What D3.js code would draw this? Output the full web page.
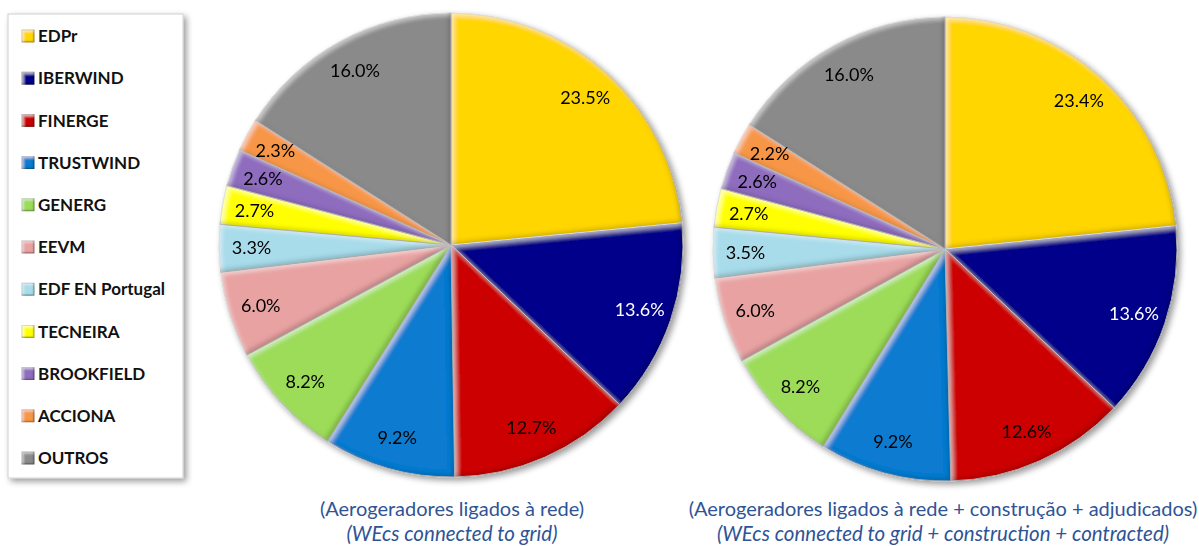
<!DOCTYPE html>
<html><head><meta charset="utf-8">
<script src="https://cdn.jsdelivr.net/npm/d3@7"></script>
<style>
html,body{margin:0;padding:0;background:#fff;}
svg{display:block;}
</style></head>
<body>
<svg id="chart" width="1199" height="546"></svg>
<script>
const categories = ["EDPr","IBERWIND","FINERGE","TRUSTWIND","GENERG","EEVM","EDF EN Portugal","TECNEIRA","BROOKFIELD","ACCIONA","OUTROS"];
const colors = ["#FFD600","#00008A","#CC0000","#0A7BD0","#9CDC58","#E8A2A2","#A8DCEA","#FFFF00","#8E6CBE","#F79646","#8A8A8A"];
const gridValues = [23.5,13.6,12.7,9.2,8.2,6.0,3.3,2.7,2.6,2.3,16.0];
const totalValues = [23.4,13.6,12.6,9.2,8.2,6.0,3.5,2.7,2.6,2.2,16.0];
const captionsPT = ["(Aerogeradores ligados à rede)","(Aerogeradores ligados à rede + construção + adjudicados)"];
const captionsEN = ["(WEcs connected to grid)","(WEcs connected to grid + construction + contracted)"];
const labelColors = ["#000","#fff","#000","#000","#000","#000","#000","#000","#000","#000","#000"];

const svg = d3.select("#chart");
const defs = svg.append("defs");

// bevel filter: light strip on top-left inner edges, dark strip on bottom-right inner edges
function bevelFilter(id, w, blur, hiOp, shOp){
  const f = defs.append("filter").attr("id",id).attr("x","-5%").attr("y","-5%").attr("width","110%").attr("height","110%");
  f.append("feGaussianBlur").attr("in","SourceAlpha").attr("stdDeviation",blur).attr("result","blur");
  f.append("feOffset").attr("in","blur").attr("dx",w).attr("dy",w).attr("result","offA");
  f.append("feOffset").attr("in","blur").attr("dx",-w).attr("dy",-w).attr("result","offB");
  f.append("feComposite").attr("in","SourceAlpha").attr("in2","offA").attr("operator","out").attr("result","hiMask");
  f.append("feComposite").attr("in","SourceAlpha").attr("in2","offB").attr("operator","out").attr("result","shMask");
  f.append("feFlood").attr("flood-color","#ffffff").attr("flood-opacity",hiOp).attr("result","white");
  f.append("feComposite").attr("in","white").attr("in2","hiMask").attr("operator","in").attr("result","hi");
  f.append("feFlood").attr("flood-color","#000000").attr("flood-opacity",shOp).attr("result","black");
  f.append("feComposite").attr("in","black").attr("in2","shMask").attr("operator","in").attr("result","sh");
  const m = f.append("feMerge");
  m.append("feMergeNode").attr("in","SourceGraphic");
  m.append("feMergeNode").attr("in","hi");
  m.append("feMergeNode").attr("in","sh");
}
bevelFilter("bevel", 3, 2, 0.45, 0.35);
bevelFilter("bevelSmall", 1.5, 1, 0.5, 0.4);

// drop shadow filter
const ds = defs.append("filter").attr("id","shadow").attr("x","-10%").attr("y","-10%").attr("width","130%").attr("height","130%");
ds.append("feGaussianBlur").attr("in","SourceAlpha").attr("stdDeviation",3).attr("result","b");
ds.append("feOffset").attr("in","b").attr("dx",3).attr("dy",3).attr("result","o");
ds.append("feComponentTransfer").attr("in","o").attr("result","o2").append("feFuncA").attr("type","linear").attr("slope",0.4);
const dm = ds.append("feMerge");
dm.append("feMergeNode").attr("in","o2");
dm.append("feMergeNode").attr("in","SourceGraphic");

// Legend
const legend = svg.append("g");
legend.append("rect").attr("x",8).attr("y",14).attr("width",175).attr("height",464)
  .attr("fill","#fff").attr("stroke","#d0d0d0").attr("stroke-width",1).attr("filter","url(#shadow)");
const ly = d3.scalePoint().domain(categories).range([36,458]);
categories.forEach((c,i)=>{
  const g = legend.append("g").attr("transform",`translate(22,${ly(c)})`);
  g.append("rect").attr("x",0).attr("y",-6).attr("width",12).attr("height",12)
    .attr("fill",colors[i]).attr("stroke",d3.color(colors[i]).darker(0.8)).attr("stroke-width",0.8).attr("filter","url(#bevelSmall)");
  g.append("text").attr("x",16).attr("y",0).attr("dy","0.36em")
    .attr("font-family","Lato, 'Open Sans', sans-serif").attr("font-size",17).attr("font-weight",700)
    .attr("fill","#111").text(c);
});

function drawPie(cx, cy, r, values){
  const pie = d3.pie().sort(null).value(d=>d);
  const arcs = pie(values);
  const arc = d3.arc().innerRadius(0).outerRadius(r);
  const labelArc = d3.arc().innerRadius(r*0.86).outerRadius(r*0.86);
  const g = svg.append("g").attr("transform",`translate(${cx},${cy})`);
  const sg = g.append("g").attr("filter","url(#shadow)");
  sg.selectAll("path").data(arcs).join("path")
    .attr("d",arc).attr("fill",(d,i)=>colors[i])
    .attr("stroke","#c8c8c8").attr("stroke-width",1).attr("stroke-linejoin","round")
    .attr("filter","url(#bevel)");
  g.selectAll("text").data(arcs).join("text")
    .attr("transform",d=>`translate(${labelArc.centroid(d)})`)
    .attr("text-anchor","middle").attr("dy","0.36em")
    .attr("font-family","Lato, 'Open Sans', sans-serif").attr("font-size",18)
    .attr("fill",(d,i)=>labelColors[i])
    .text(d=>d.data.toFixed(1)+"%");
}
drawPie(451,245,232,gridValues);
drawPie(945,249,232,totalValues);

const capX = [452,943];
capX.forEach((x,i)=>{
  svg.append("text").attr("x",x).attr("y",516).attr("text-anchor","middle")
    .attr("font-family","Lato, 'Open Sans', sans-serif").attr("font-size",20).attr("fill","#2F5496")
    .text(captionsPT[i]);
  svg.append("text").attr("x",x).attr("y",541).attr("text-anchor","middle")
    .attr("font-family","Lato, 'Open Sans', sans-serif").attr("font-size",20.5).attr("font-style","italic").attr("fill","#2F5496")
    .text(captionsEN[i]);
});
</script>
</body></html>
